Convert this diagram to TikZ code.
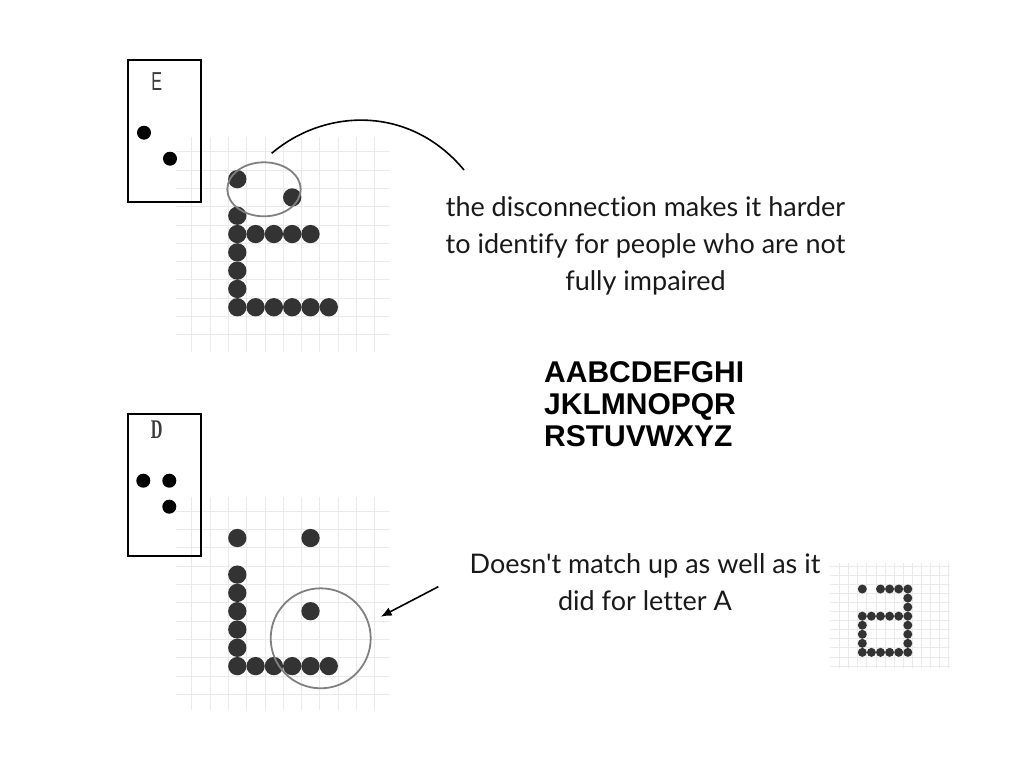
\documentclass[tikz,border=0pt]{standalone}
\usepackage{fontspec}
\setmainfont{Lato}
\newfontfamily\notefont{Lato}[Ligatures={ResetAll,NoCommon,NoContextual}]
\newfontfamily\headfont{Liberation Sans}
\newfontfamily\serifhead{Liberation Serif}
\usetikzlibrary{arrows.meta, positioning, shapes.geometric}
\definecolor{dotgray}{RGB}{51,51,51}
\definecolor{gridgray}{RGB}{234,234,234}
\definecolor{ringgray}{RGB}{128,128,128}
\definecolor{lettergray}{RGB}{60,60,60}

\begin{document}
\begin{tikzpicture}[
    x=1pt, y=-1pt,
    bigdot/.style={circle, fill=dotgray, minimum size=18.3pt, inner sep=0pt},
    smalldot/.style={circle, fill=dotgray, minimum size=9pt, inner sep=0pt},
    brailledot/.style={circle, fill=black, minimum size=14pt, inner sep=0pt},
    cellbox/.style={draw=black, line width=2pt, minimum width=72.4pt, minimum height=142.3pt, inner sep=0pt},
    ring/.style={draw=ringgray, line width=1.8pt, inner sep=0pt},
    gridline/.style={draw=gridgray, line width=0.8pt},
    note/.style={align=center, font=\notefont\fontsize{27}{36.7}\selectfont, text=black!90},
    arrow/.style={-{Latex[length=11pt,width=9pt]}, line width=1.6pt}
]
\useasboundingbox (0,0) rectangle (1024,768);

% light grids behind the dot letters
\foreach \k in {0,...,10} {
    \draw[gridline] ({191.7+18.3*\k},137) -- ({191.7+18.3*\k},352);
    \draw[gridline] (176,{151.7+18.3*\k}) -- (390,{151.7+18.3*\k});
    \draw[gridline] ({191.7+18.3*\k},497) -- ({191.7+18.3*\k},710);
    \draw[gridline] (176,{511.2+18.3*\k}) -- (390,{511.2+18.3*\k});
}
\foreach \k in {-2,...,10} {
    \draw[gridline] ({857.75+9.1*\k},563) -- ({857.75+9.1*\k},668);
}
\foreach \k in {-2,...,9} {
    \draw[gridline] (830,{584.5+9.05*\k}) -- (950,{584.5+9.05*\k});
}

% braille cells
\node[cellbox] (ecell) at (164.5,131.2) {};
\node[font=\headfont\fontsize{26}{26}\selectfont, text=lettergray] (eletter) at (156.7,81.7) {\scalebox{0.62}[1]{E}};
\node[brailledot] (e1) at (144,132.7) {};
\node[brailledot] (e2) at (170,158.7) {};

\node[cellbox] (dcell) at (164.5,485) {};
\node[font=\serifhead\bfseries\fontsize{27}{27}\selectfont, text=lettergray] (dletter) at (156.7,430) {\scalebox{0.6}[1]{D}};
\node[brailledot] (d1) at (143.3,480.7) {};
\node[brailledot] (d2) at (169.3,480.7) {};
\node[brailledot] (d3) at (169.3,506.7) {};

% dot letters
\foreach \c/\r in {0/0, 3/1, 0/2, 0/3, 0/4, 0/5, 0/6, 0/7, 1/3, 2/3, 3/3, 4/3, 1/7, 2/7, 3/7, 4/7, 5/7}
    \node[bigdot] (e-\c-\r) at ({237.3+18.3*\c},{179.15+18.3*\r}) {};
\foreach \c/\r in {0/0, 4/0, 0/2, 0/3, 0/4, 0/5, 0/6, 0/7, 4/4, 1/7, 2/7, 3/7, 4/7, 5/7}
    \node[bigdot] (d-\c-\r) at ({237.3+18.3*\c},{538+18.3*\r}) {};
\foreach \c/\r in {0/0, 2/0, 3/0, 4/0, 5/0, 5/1, 5/2, 5/3, 5/4, 5/5, 5/6, 5/7,
                   0/3, 1/3, 2/3, 3/3, 4/3, 0/4, 0/5, 0/6, 0/7, 1/7, 2/7, 3/7, 4/7}
    \node[smalldot] (a-\c-\r) at ({862.3+9.1*\c},{589+9.05*\r}) {};

% rings
\node[ring, ellipse, minimum width=73.4pt, minimum height=54pt] (ering) at (264,189.3) {};
\node[ring, circle, minimum size=100pt] (dring) at (320.7,638.3) {};

% notes
\node[note] (enote) at (645.5,246) {the disconnection makes it harder\\to identify for people who are not\\fully impaired};
\node[note] (dnote) at (645,582) {Doesn't match up as well as it\\did for letter A};
\node[anchor=west, align=left, inner sep=0pt, font=\headfont\bfseries\fontsize{30}{32}\selectfont] (alphabet) at (544,404.5) {AABCDEFGHI\\JKLMNOPQR\\RSTUVWXYZ};

% connectors
\coordinate (arcstart) at (271.7,153.3);
\coordinate (arcend) at (464,170);
\draw[line width=1.6pt] (arcstart) .. controls (325,108) and (410,105) .. (arcend);
\coordinate (arrowtail) at (438.3,586.7);
\coordinate (arrowtip) at (380.7,616.7);
\draw[arrow] (arrowtail) -- (arrowtip);

\end{tikzpicture}
\end{document}
